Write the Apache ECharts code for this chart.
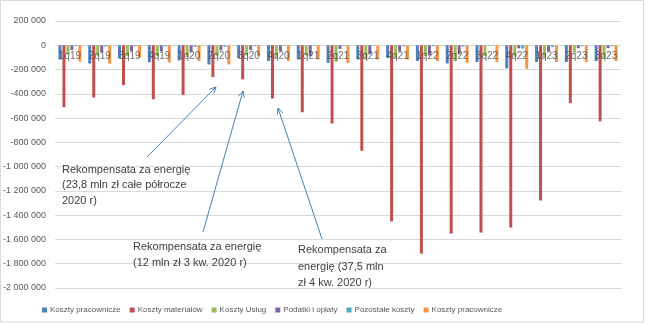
<!DOCTYPE html>
<html>
<head>
<meta charset="utf-8">
<script src="https://cdn.jsdelivr.net/npm/echarts@6/dist/echarts.min.js"></script>
<style>
  html, body { margin: 0; padding: 0; background: #fff; }
  #chart { width: 648px; height: 324px; }
</style>
</head>
<body>
<div id="chart"></div>
<script>
// Quarterly operating costs (costs shown as negative values)
const quarters = ['1q19','2q19','3q19','4q19','1q20','2q20','3q20','4q20','1q21','2q21','3q21','4q21','1q22','2q22','3q22','4q22','1q23','2q23','3q23'];

const kosztyPracownicze = [-118000,-150000,-108000,-140000,-125000,-158000,-105000,-130000,-117000,-145000,-117000,-105000,-130000,-150000,-138000,-190000,-138000,-138000,-130000];
const kosztyMaterialow = [-510000,-430000,-328000,-444000,-410000,-262000,-281000,-438000,-552000,-644000,-869000,-1452000,-1717000,-1551000,-1543000,-1502000,-1279000,-477000,-626000];
const kosztyUslug = [-72000,-86000,-88000,-91000,-97000,-86000,-84000,-102000,-84000,-135000,-117000,-105000,-88000,-130000,-88000,-94000,-102000,-62000,-110000];
const podatkiOplaty = [-40000,-58000,-48000,-50000,-52000,-42000,-39000,-48000,-90000,-30000,-75000,-48000,-84000,-75000,-3000,-25000,-48000,-24000,-24000];
const pozostaleKoszty = [-8000,-11000,-8000,-10000,-13000,-13000,-8000,-4000,-5000,-5000,-5000,-10000,-8000,-12000,-4000,-27000,-15000,-8000,-8000];
const kosztyPracownicze2 = [-135000,-152000,-100000,-142000,-130000,-158000,-89000,-130000,-117000,-145000,-117000,-117000,-130000,-145000,-138000,-192000,-138000,-138000,-130000];

const seriesNames = ['Koszty pracownicze','Koszty materiałów','Koszty Usług','Podatki i opłaty','Pozostałe koszty','Koszty pracownicze '];
const seriesData = [kosztyPracownicze, kosztyMaterialow, kosztyUslug, podatkiOplaty, pozostaleKoszty, kosztyPracownicze2];
const colors = ['#4F81BD','#C0504D','#9BBB59','#8064A2','#4BACC6','#F79646'];

const yMin = -2000000, yMax = 200000, yStep = 200000;

const notes = [
  { text: 'Rekompensata za energię\n(23,8 mln zł całe półrocze\n2020 r)', x: 62, y: 162, lh: 15.5 },
  { text: 'Rekompensata za energię\n(12 mln zł 3 kw. 2020 r)', x: 133, y: 238.5, lh: 16.5 },
  { text: 'Rekompensata za\nenergię (37,5 mln\nzł 4 kw. 2020 r)', x: 298, y: 242, lh: 16.5 }
];
const arrows = [
  [147, 157, 216, 87],
  [203, 232, 243, 91],
  [322, 239, 278, 108]
];

function fmtThousands(v) {
  const s = Math.abs(v).toString().replace(/\B(?=(\d{3})+(?!\d))/g, ' ');
  return (v < 0 ? '-' : '') + s;
}

function arrowGraphic(a) {
  const [x1, y1, x2, y2] = a;
  const ang = Math.atan2(y2 - y1, x2 - x1);
  const len = 7, spread = 0.45;
  const p1 = [x2 - len * Math.cos(ang - spread), y2 - len * Math.sin(ang - spread)];
  const p2 = [x2 - len * Math.cos(ang + spread), y2 - len * Math.sin(ang + spread)];
  return [
    { type: 'line', shape: { x1, y1, x2, y2 }, style: { stroke: '#4A7EBB', lineWidth: 1 }, z: 10 },
    { type: 'polyline', shape: { points: [p1, [x2, y2], p2] }, style: { stroke: '#4A7EBB', lineWidth: 1, fill: null }, z: 10 }
  ];
}

const graphics = [
  { type: 'rect', shape: { x: 0.5, y: 0.5, width: 643, height: 321.5 }, style: { fill: null, stroke: '#D9D9D9', lineWidth: 1 }, z: -1 }
];
notes.forEach(n => graphics.push({
  type: 'text', left: n.x, top: n.y, z: 10,
  style: { text: n.text, fill: '#404040', font: '11px "Liberation Sans", Arial, sans-serif', lineHeight: n.lh }
}));
arrows.forEach(a => graphics.push(...arrowGraphic(a)));

// Bars for each cost category
const barSeries = seriesNames.map((name, i) => ({
  name,
  type: 'bar',
  data: seriesData[i],
  barWidth: 3,
  barGap: '33%',
  itemStyle: { color: colors[i] }
}));

// Quarter labels sitting just under the zero line, drawn above the bars
const quarterLabels = {
  name: 'quarterLabels',
  type: 'scatter',
  data: quarters.map(q => [q, 0]),
  symbolSize: 0,
  silent: true,
  zlevel: 1,
  z: 20,
  label: {
    show: true,
    position: 'bottom',
    distance: 6,
    color: '#4a4a4a',
    fontSize: 10,
    formatter: p => p.data[0]
  }
};

const chart = echarts.init(document.getElementById('chart'), null, { renderer: 'canvas' });
chart.setOption({
  animation: false,
  color: colors,
  textStyle: { fontFamily: '"Liberation Sans", Arial, sans-serif' },
  grid: { left: 55, right: 27, top: 21, bottom: 36, containLabel: false },
  legend: {
    data: seriesNames,
    left: 37, top: 301,
    icon: 'rect', itemWidth: 5, itemHeight: 5, itemGap: 9,
    textStyle: { color: '#595959', fontSize: 8, padding: [0, 0, 0, -2] }
  },
  xAxis: {
    type: 'category',
    data: quarters,
    axisLine: { show: false },
    axisTick: { show: false },
    axisLabel: { show: false },
    splitLine: { show: false }
  },
  yAxis: {
    type: 'value',
    min: yMin, max: yMax, interval: yStep,
    axisLine: { show: false },
    axisTick: { show: false },
    axisLabel: { color: '#595959', fontSize: 9, margin: 9, formatter: fmtThousands },
    splitLine: { lineStyle: { color: '#D9D9D9', width: 1 } }
  },
  series: [...barSeries, quarterLabels],
  graphic: graphics
});
</script>
</body>
</html>
